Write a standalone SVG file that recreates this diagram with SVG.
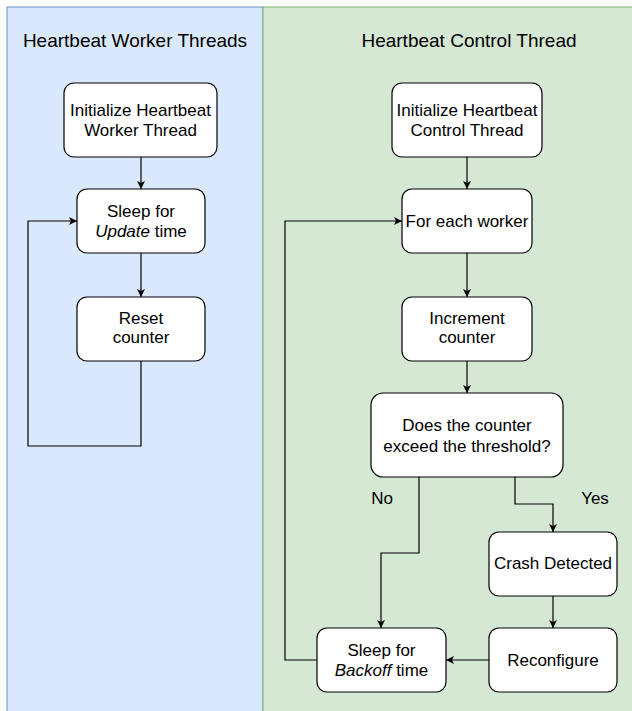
<svg xmlns="http://www.w3.org/2000/svg" width="632" height="711" viewBox="0 0 632 711">
<style>
.node{fill:#ffffff;stroke:#000000;stroke-width:1.2}
.t{font-family:"Liberation Sans",Arial,sans-serif;font-size:17px;fill:#000;text-anchor:middle}
.title{font-family:"Liberation Sans",Arial,sans-serif;font-size:19px;fill:#000;text-anchor:middle}
.edge{fill:none;stroke:#000;stroke-width:1.2}
</style>
<defs>
<marker id="arr" markerUnits="userSpaceOnUse" markerWidth="10" markerHeight="10" viewBox="0 0 10 10" refX="9" refY="5" orient="auto">
<path d="M1,1 L9,5 L1,9 L3,5 z" fill="#000"/>
</marker>
</defs>
<g id="lane-worker">
<rect x="7" y="7" width="256" height="720" fill="#dae8fc" stroke="#6c8ebf" stroke-width="1"/>
<text class="title" x="135" y="47">Heartbeat Worker Threads</text>
</g>
<g id="lane-control">
<rect x="263" y="7" width="380" height="720" fill="#d5e8d4" stroke="#82b366" stroke-width="1"/>
<text class="title" x="469" y="47">Heartbeat Control Thread</text>
</g>
<g id="connectors">
<path class="edge" d="M141,157 L141,189" marker-end="url(#arr)"/>
<path class="edge" d="M141,253 L141,297" marker-end="url(#arr)"/>
<path class="edge" d="M141,361 L141,446 L28,446 L28,221 L77,221" marker-end="url(#arr)"/>
<path class="edge" d="M467,157 L467,189" marker-end="url(#arr)"/>
<path class="edge" d="M467,253 L467,297" marker-end="url(#arr)"/>
<path class="edge" d="M467,361 L467,393" marker-end="url(#arr)"/>
<path class="edge" d="M419,477 L419,553 L381,553 L381,628" marker-end="url(#arr)"/>
<path class="edge" d="M515,477 L515,504 L553,504 L553,532" marker-end="url(#arr)"/>
<path class="edge" d="M553,596 L553,628" marker-end="url(#arr)"/>
<path class="edge" d="M489,660 L446,660" marker-end="url(#arr)"/>
<path class="edge" d="M317,660 L285,660 L285,221 L402,221" marker-end="url(#arr)"/>
<text class="t" x="382" y="504">No</text>
<text class="t" x="595" y="504">Yes</text>
</g>
<g id="w-init">
<rect class="node" x="64" y="83" width="153" height="74" rx="10"/>
<text class="t" x="140.5" y="116">Initialize Heartbeat</text>
<text class="t" x="140.5" y="136">Worker Thread</text>
</g>
<g id="w-sleep">
<rect class="node" x="77" y="189" width="128" height="64" rx="10"/>
<text class="t" x="141" y="217">Sleep for</text>
<text class="t" x="141" y="237"><tspan font-style="italic">Update</tspan> time</text>
</g>
<g id="w-reset">
<rect class="node" x="77" y="297" width="128" height="64" rx="10"/>
<text class="t" x="141" y="324">Reset</text>
<text class="t" x="141" y="343">counter</text>
</g>
<g id="c-init">
<rect class="node" x="392" y="83" width="150" height="74" rx="10"/>
<text class="t" x="467" y="116">Initialize Heartbeat</text>
<text class="t" x="467" y="136">Control Thread</text>
</g>
<g id="c-each">
<rect class="node" x="402" y="189" width="130" height="64" rx="10"/>
<text class="t" x="467" y="227">For each worker</text>
</g>
<g id="c-inc">
<rect class="node" x="402" y="297" width="130" height="64" rx="10"/>
<text class="t" x="467" y="324">Increment</text>
<text class="t" x="467" y="343">counter</text>
</g>
<g id="c-decision">
<rect class="node" x="371" y="393" width="192" height="84" rx="12"/>
<text class="t" x="467" y="431">Does the counter</text>
<text class="t" x="467" y="452">exceed the threshold?</text>
</g>
<g id="c-crash">
<rect class="node" x="489" y="532" width="128" height="64" rx="10"/>
<text class="t" x="553" y="569">Crash Detected</text>
</g>
<g id="c-reconf">
<rect class="node" x="489" y="628" width="128" height="64" rx="10"/>
<text class="t" x="553" y="666">Reconfigure</text>
</g>
<g id="c-backoff">
<rect class="node" x="317" y="628" width="129" height="64" rx="10"/>
<text class="t" x="381.5" y="656">Sleep for</text>
<text class="t" x="381.5" y="676"><tspan font-style="italic">Backoff</tspan> time</text>
</g>
</svg>
